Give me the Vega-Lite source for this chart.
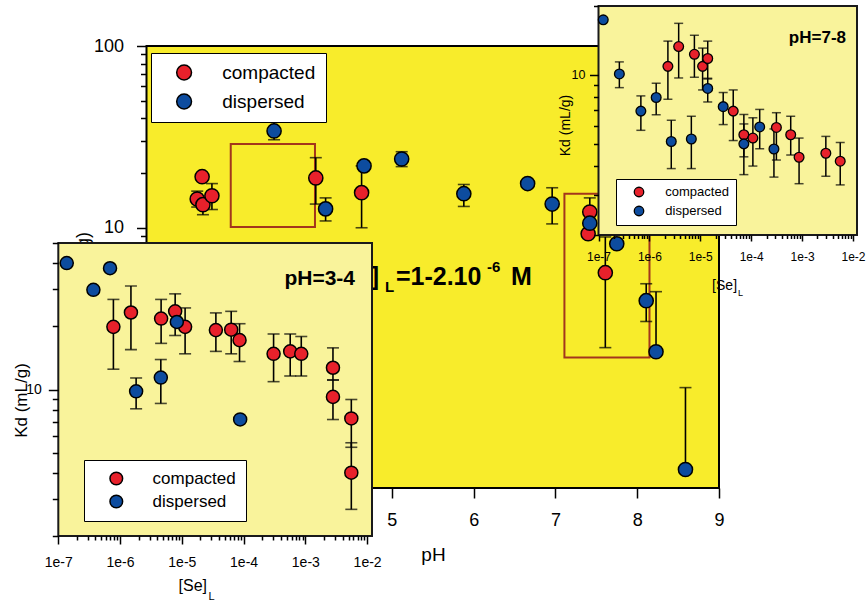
{
  "$schema": "https://vega.github.io/schema/vega-lite/v6.json",
  "width": 868,
  "height": 605,
  "autosize": {"type": "none"},
  "padding": 0,
  "background": "white",
  "config": {
    "view": {"stroke": null},
    "font": "Liberation Sans",
    "axis": {"labelColor": "black", "titleColor": "black", "tickColor": "black", "tickWidth": 1.5, "domain": false, "grid": false, "labelFont": "Liberation Sans", "titleFont": "Liberation Sans", "titleFontWeight": "normal", "labelOverlap": false, "labelFlush": false}
  },
  "datasets": {
    "main": [
      {"state": "compacted", "ph": 2.68, "kd": 19.1},
      {"state": "compacted", "ph": 2.62, "kd": 14.4, "lo": 13.0, "hi": 15.9},
      {"state": "compacted", "ph": 2.69, "kd": 13.4, "lo": 11.8, "hi": 14.5},
      {"state": "compacted", "ph": 2.80, "kd": 15.0, "lo": 12.6, "hi": 17.5},
      {"state": "compacted", "ph": 4.07, "kd": 18.8, "lo": 13.5, "hi": 24.3},
      {"state": "compacted", "ph": 4.63, "kd": 15.6, "lo": 10.0, "hi": 21.9},
      {"state": "compacted", "ph": 7.42, "kd": 12.2, "lo": 10.6, "hi": 14.6},
      {"state": "compacted", "ph": 7.40, "kd": 9.27},
      {"state": "compacted", "ph": 7.61, "kd": 5.66, "lo": 2.19, "hi": 8.9},
      {"state": "dispersed", "ph": 3.56, "kd": 34.1, "lo": 30.5, "hi": 38.3},
      {"state": "dispersed", "ph": 4.19, "kd": 12.7, "lo": 10.9, "hi": 14.6},
      {"state": "dispersed", "ph": 4.66, "kd": 21.9},
      {"state": "dispersed", "ph": 5.12, "kd": 23.9, "lo": 21.7, "hi": 26.2},
      {"state": "dispersed", "ph": 5.88, "kd": 15.4, "lo": 13.1, "hi": 17.3},
      {"state": "dispersed", "ph": 6.66, "kd": 17.5},
      {"state": "dispersed", "ph": 6.96, "kd": 13.5, "lo": 10.5, "hi": 16.6},
      {"state": "dispersed", "ph": 7.42, "kd": 10.6},
      {"state": "dispersed", "ph": 7.75, "kd": 8.17},
      {"state": "dispersed", "ph": 8.11, "kd": 3.97, "lo": 3.05, "hi": 4.92},
      {"state": "dispersed", "ph": 8.23, "kd": 2.08, "lo": 2.08, "hi": 4.45},
      {"state": "dispersed", "ph": 8.59, "kd": 0.468, "lo": 0.468, "hi": 1.32}
    ],
    "zones": [
      {"ph0": 3.03, "ph1": 4.06, "kd0": 10.1, "kd1": 28.9},
      {"ph0": 7.11, "ph1": 8.15, "kd0": 1.93, "kd1": 15.4}
    ],
    "acid": [
      {"state": "compacted", "se": 7.8e-7, "kd": 19.9, "lo": 12.5, "hi": 26.9},
      {"state": "compacted", "se": 1.5e-6, "kd": 23.3, "lo": 15.5, "hi": 31.2},
      {"state": "compacted", "se": 4.62e-6, "kd": 21.8, "lo": 16.6, "hi": 26.9},
      {"state": "compacted", "se": 7.8e-6, "kd": 23.6, "lo": 18.1, "hi": 28.6},
      {"state": "compacted", "se": 1.13e-5, "kd": 19.9, "lo": 14.8, "hi": 24.5},
      {"state": "compacted", "se": 3.56e-5, "kd": 19.2, "lo": 15.2, "hi": 23.2},
      {"state": "compacted", "se": 6.3e-5, "kd": 19.3, "lo": 14.8, "hi": 23.6},
      {"state": "compacted", "se": 8.6e-5, "kd": 17.2, "lo": 13.6, "hi": 20.6},
      {"state": "compacted", "se": 3.06e-4, "kd": 14.8, "lo": 10.9, "hi": 18.4},
      {"state": "compacted", "se": 5.69e-4, "kd": 15.2, "lo": 11.6, "hi": 18.4},
      {"state": "compacted", "se": 8.59e-4, "kd": 14.8, "lo": 11.6, "hi": 17.9},
      {"state": "compacted", "se": 2.8e-3, "kd": 12.7, "lo": 11.1, "hi": 15.8},
      {"state": "compacted", "se": 2.8e-3, "kd": 9.22, "lo": 7.19, "hi": 11.1},
      {"state": "compacted", "se": 5.55e-3, "kd": 7.28, "lo": 5.3, "hi": 8.96},
      {"state": "compacted", "se": 5.55e-3, "kd": 4.01, "lo": 2.68, "hi": 5.57},
      {"state": "dispersed", "se": 1.37e-7, "kd": 40.1},
      {"state": "dispersed", "se": 3.7e-7, "kd": 29.9},
      {"state": "dispersed", "se": 6.88e-7, "kd": 37.9},
      {"state": "dispersed", "se": 1.82e-6, "kd": 9.8, "lo": 8.09, "hi": 11.35},
      {"state": "dispersed", "se": 4.57e-6, "kd": 11.4, "lo": 8.58, "hi": 13.9},
      {"state": "dispersed", "se": 8.3e-6, "kd": 21.0},
      {"state": "dispersed", "se": 8.8e-5, "kd": 7.2}
    ],
    "neutral": [
      {"state": "compacted", "se": 2.31e-6, "kd": 10.9, "lo": 7.83, "hi": 14.05},
      {"state": "compacted", "se": 3.76e-6, "kd": 13.3, "lo": 9.7, "hi": 16.8},
      {"state": "compacted", "se": 7.66e-6, "kd": 12.3, "lo": 9.77, "hi": 14.9},
      {"state": "compacted", "se": 1.11e-5, "kd": 10.9, "lo": 8.6, "hi": 13.1},
      {"state": "compacted", "se": 1.4e-5, "kd": 11.8, "lo": 9.6, "hi": 14.05},
      {"state": "compacted", "se": 4.44e-5, "kd": 6.95, "lo": 5.17, "hi": 8.6},
      {"state": "compacted", "se": 7.18e-5, "kd": 5.48, "lo": 4.39, "hi": 6.72},
      {"state": "compacted", "se": 1.08e-4, "kd": 5.3, "lo": 4.0, "hi": 6.5},
      {"state": "compacted", "se": 3.13e-4, "kd": 5.9, "lo": 4.25, "hi": 6.84},
      {"state": "compacted", "se": 5.98e-4, "kd": 5.48, "lo": 4.47, "hi": 6.6},
      {"state": "compacted", "se": 8.73e-4, "kd": 4.37, "lo": 3.35, "hi": 5.3},
      {"state": "compacted", "se": 2.93e-3, "kd": 4.55, "lo": 3.61, "hi": 5.39},
      {"state": "compacted", "se": 5.62e-3, "kd": 4.2, "lo": 3.31, "hi": 5.07},
      {"state": "dispersed", "se": 1.24e-7, "kd": 17.4},
      {"state": "dispersed", "se": 2.57e-7, "kd": 10.1, "lo": 8.8, "hi": 11.4},
      {"state": "dispersed", "se": 6.8e-7, "kd": 6.95, "lo": 5.73, "hi": 8.1},
      {"state": "dispersed", "se": 1.36e-6, "kd": 7.97, "lo": 6.7, "hi": 9.2},
      {"state": "dispersed", "se": 2.69e-6, "kd": 5.12, "lo": 3.9, "hi": 6.34},
      {"state": "dispersed", "se": 6.67e-6, "kd": 5.25, "lo": 3.9, "hi": 6.6},
      {"state": "dispersed", "se": 1.4e-5, "kd": 8.73, "lo": 7.62, "hi": 9.67},
      {"state": "dispersed", "se": 2.82e-5, "kd": 7.27, "lo": 6.07, "hi": 8.38},
      {"state": "dispersed", "se": 7.18e-5, "kd": 5.0, "lo": 3.67, "hi": 6.11},
      {"state": "dispersed", "se": 1.47e-4, "kd": 5.93, "lo": 4.76, "hi": 7.07},
      {"state": "dispersed", "se": 2.8e-4, "kd": 4.75, "lo": 3.58, "hi": 5.81}
    ]
  },
  "layer": [
    {
      "layer": [
        {
          "data": {"values": [{}]},
          "mark": {"type": "rect", "fill": "#f8ec2b", "stroke": "black", "strokeWidth": 2},
          "encoding": {
            "x": {"datum": 2, "type": "quantitative", "title": "pH",
              "scale": {"domain": [2, 9], "range": [146.5, 719], "nice": false, "zero": false},
              "axis": {"orient": "bottom", "offset": -117, "values": [3, 4, 5, 6, 7, 8, 9], "format": "d", "tickSize": 10, "labelFontSize": 18, "labelPadding": 13, "titleFontSize": 19, "titleX": 433, "titleY": 57, "zindex": 0}},
            "x2": {"datum": 9},
            "y": {"datum": 0.37, "type": "quantitative", "title": "Kd (mL/g)",
              "scale": {"type": "log", "domain": [0.37, 100], "range": [488, 46], "nice": false},
              "axis": {"orient": "left", "offset": -146.5,
                "values": [0.4, 0.5, 0.6, 0.7, 0.8, 0.9, 1, 2, 3, 4, 5, 6, 7, 8, 9, 10, 20, 30, 40, 50, 60, 70, 80, 90, 100],
                "tickSize": {"condition": {"test": "abs(log(datum.value)/LN10 - round(log(datum.value)/LN10)) < 0.001", "value": 10}, "value": 6},
                "labelExpr": "abs(log(datum.value)/LN10 - round(log(datum.value)/LN10)) < 0.001 ? '' + datum.value : ''",
                "labelFontSize": 18, "labelPadding": 13,
                "titleFontSize": 18, "titleX": -54.5, "titleY": 271, "zindex": 0}},
            "y2": {"datum": 100}
          }
        },
        {
          "data": {"name": "zones"},
          "mark": {"type": "rect", "filled": false, "fillOpacity": 0, "stroke": "#a3361c", "strokeWidth": 2},
          "encoding": {
            "x": {"field": "ph0", "type": "quantitative", "title": "pH"},
            "x2": {"field": "ph1"},
            "y": {"field": "kd0", "type": "quantitative", "title": "Kd (mL/g)"},
            "y2": {"field": "kd1"}
          }
        },
        {
          "data": {"name": "main"},
          "transform": [{"filter": "isValid(datum.lo)"}],
          "mark": {"type": "errorbar", "color": "black", "thickness": 1.6, "ticks": {"size": 12, "thickness": 1.6, "color": "black"}},
          "encoding": {
            "x": {"field": "ph", "type": "quantitative", "title": "pH"},
            "y": {"field": "lo", "type": "quantitative", "title": "Kd (mL/g)"},
            "y2": {"field": "hi"}
          }
        },
        {
          "data": {"name": "main"},
          "mark": {"type": "point", "shape": "circle", "filled": true, "size": 200, "stroke": "black", "strokeWidth": 1.5, "opacity": 1},
          "encoding": {
            "x": {"field": "ph", "type": "quantitative", "title": "pH"},
            "y": {"field": "kd", "type": "quantitative", "title": "Kd (mL/g)"},
            "color": {"field": "state", "type": "nominal",
              "scale": {"domain": ["compacted", "dispersed"], "range": ["#e8212b", "#0d4c9f"]},
              "legend": {"orient": "none", "legendX": 151, "legendY": 53, "direction": "vertical", "title": null,
                "fillColor": "white", "strokeColor": "black", "padding": 10,
                "symbolType": "circle", "symbolSize": 220, "symbolStrokeColor": "black", "symbolStrokeWidth": 1.5,
                "symbolOffset": 13.6, "labelOffset": 28.7, "rowPadding": 8,
                "labelFont": "Liberation Sans", "labelFontSize": 19, "labelColor": "black"}}
          }
        },
        {
          "data": {"values": [{}]},
          "mark": {"type": "text", "text": "[Se]", "fontSize": 25, "fontWeight": "bold", "align": "right", "baseline": "alphabetic", "color": "black"},
          "encoding": {"x": {"datum": 4.843, "type": "quantitative"}, "y": {"datum": 4.84, "type": "quantitative"}}
        },
        {
          "data": {"values": [{}]},
          "mark": {"type": "text", "text": "L", "fontSize": 15, "fontWeight": "bold", "align": "left", "baseline": "alphabetic", "color": "black"},
          "encoding": {"x": {"datum": 4.916, "type": "quantitative"}, "y": {"datum": 4.43, "type": "quantitative"}}
        },
        {
          "data": {"values": [{}]},
          "mark": {"type": "text", "text": "=1-2.10", "fontSize": 25, "fontWeight": "bold", "align": "left", "baseline": "alphabetic", "color": "black"},
          "encoding": {"x": {"datum": 5.05, "type": "quantitative"}, "y": {"datum": 4.84, "type": "quantitative"}}
        },
        {
          "data": {"values": [{}]},
          "mark": {"type": "text", "text": "-6", "fontSize": 15, "fontWeight": "bold", "align": "left", "baseline": "alphabetic", "color": "black"},
          "encoding": {"x": {"datum": 6.163, "type": "quantitative"}, "y": {"datum": 5.7, "type": "quantitative"}}
        },
        {
          "data": {"values": [{}]},
          "mark": {"type": "text", "text": "M", "fontSize": 25, "fontWeight": "bold", "align": "left", "baseline": "alphabetic", "color": "black"},
          "encoding": {"x": {"datum": 6.456, "type": "quantitative"}, "y": {"datum": 4.84, "type": "quantitative"}}
        }
      ]
    },
    {
      "layer": [
        {
          "data": {"values": [{}]},
          "mark": {"type": "rect", "fill": "#f9f39b", "stroke": "#1a1a1a", "strokeWidth": 2},
          "encoding": {
            "x": {"datum": 1e-7, "type": "quantitative", "title": null,
              "scale": {"type": "log", "domain": [1e-7, 0.012], "range": [58.3, 372], "nice": false},
              "axis": {"orient": "bottom", "offset": -69,
                "values": [1e-7, 2e-7, 3e-7, 4e-7, 5e-7, 6e-7, 7e-7, 8e-7, 9e-7, 1e-6, 2e-6, 3e-6, 4e-6, 5e-6, 6e-6, 7e-6, 8e-6, 9e-6, 1e-5, 2e-5, 3e-5, 4e-5, 5e-5, 6e-5, 7e-5, 8e-5, 9e-5, 0.0001, 0.0002, 0.0003, 0.0004, 0.0005, 0.0006, 0.0007, 0.0008, 0.0009, 0.001, 0.002, 0.003, 0.004, 0.005, 0.006, 0.007, 0.008, 0.009, 0.01],
                "tickSize": {"condition": {"test": "abs(log(datum.value)/LN10 - round(log(datum.value)/LN10)) < 0.001", "value": 8}, "value": 4},
                "labelExpr": "abs(log(datum.value)/LN10 - round(log(datum.value)/LN10)) < 0.001 ? '1e' + round(log(datum.value)/LN10) : ''",
                "labelFontSize": 14, "labelPadding": 11, "title": null, "zindex": 1}},
            "x2": {"datum": 0.012},
            "y": {"datum": 2, "type": "quantitative", "title": "Kd (mL/g)",
              "scale": {"type": "log", "domain": [2, 50], "range": [536, 243], "nice": false},
              "axis": {"orient": "left", "offset": -58.3,
                "values": [2, 3, 4, 5, 6, 7, 8, 9, 10, 20, 30, 40, 50],
                "tickSize": {"condition": {"test": "datum.value == 10", "value": 10}, "value": 6},
                "labelExpr": "datum.value == 10 ? '10' : ''",
                "labelFontSize": 14, "labelPadding": 7,
                "titleFontSize": 17, "titleX": -27.8, "titleY": 400, "zindex": 1}},
            "y2": {"datum": 50}
          }
        },
        {
          "data": {"name": "acid"},
          "transform": [{"filter": "isValid(datum.lo)"}],
          "mark": {"type": "errorbar", "color": "black", "thickness": 1.6, "ticks": {"size": 12, "thickness": 1.6, "color": "black"}},
          "encoding": {
            "x": {"field": "se", "type": "quantitative", "title": null},
            "y": {"field": "lo", "type": "quantitative", "title": "Kd (mL/g)"},
            "y2": {"field": "hi"}
          }
        },
        {
          "data": {"name": "acid"},
          "mark": {"type": "point", "shape": "circle", "filled": true, "size": 170, "stroke": "black", "strokeWidth": 1.5, "opacity": 1},
          "encoding": {
            "x": {"field": "se", "type": "quantitative", "title": null},
            "y": {"field": "kd", "type": "quantitative", "title": "Kd (mL/g)"},
            "color": {"field": "state", "type": "nominal",
              "scale": {"domain": ["compacted", "dispersed"], "range": ["#e8212b", "#0d4c9f"]},
              "legend": {"orient": "none", "legendX": 84, "legendY": 460, "direction": "vertical", "title": null,
                "fillColor": "white", "strokeColor": "black", "padding": 10,
                "symbolType": "circle", "symbolSize": 160, "symbolStrokeColor": "black", "symbolStrokeWidth": 1.5,
                "symbolOffset": 13.8, "labelOffset": 27.8, "rowPadding": 4,
                "labelFont": "Liberation Sans", "labelFontSize": 17, "labelColor": "black"}}
          }
        },
        {
          "data": {"values": [{}]},
          "mark": {"type": "text", "text": "pH=3-4", "fontSize": 21, "fontWeight": "bold", "align": "right", "baseline": "alphabetic", "color": "black"},
          "encoding": {"x": {"datum": 0.00637, "type": "quantitative"}, "y": {"datum": 31.5, "type": "quantitative"}}
        },
        {
          "data": {"values": [{}]},
          "mark": {"type": "text", "text": "[Se]", "fontSize": 16, "align": "right", "baseline": "alphabetic", "color": "black"},
          "encoding": {"x": {"datum": 2.56e-5, "type": "quantitative"}, "y": {"datum": 1.093, "type": "quantitative"}}
        },
        {
          "data": {"values": [{}]},
          "mark": {"type": "text", "text": "L", "fontSize": 11, "align": "left", "baseline": "alphabetic", "color": "black"},
          "encoding": {"x": {"datum": 2.7e-5, "type": "quantitative"}, "y": {"datum": 0.99, "type": "quantitative"}}
        }
      ]
    },
    {
      "layer": [
        {
          "data": {"values": [{}]},
          "mark": {"type": "rect", "fill": "#f9f39b", "stroke": "#1a1a1a", "strokeWidth": 2},
          "encoding": {
            "x": {"datum": 1e-7, "type": "quantitative", "title": null,
              "scale": {"type": "log", "domain": [1e-7, 0.012], "range": [598.5, 857], "nice": false},
              "axis": {"orient": "bottom", "offset": -370,
                "values": [1e-7, 2e-7, 3e-7, 4e-7, 5e-7, 6e-7, 7e-7, 8e-7, 9e-7, 1e-6, 2e-6, 3e-6, 4e-6, 5e-6, 6e-6, 7e-6, 8e-6, 9e-6, 1e-5, 2e-5, 3e-5, 4e-5, 5e-5, 6e-5, 7e-5, 8e-5, 9e-5, 0.0001, 0.0002, 0.0003, 0.0004, 0.0005, 0.0006, 0.0007, 0.0008, 0.0009, 0.001, 0.002, 0.003, 0.004, 0.005, 0.006, 0.007, 0.008, 0.009, 0.01],
                "tickSize": {"condition": {"test": "abs(log(datum.value)/LN10 - round(log(datum.value)/LN10)) < 0.001", "value": 6}, "value": 3.5},
                "labelExpr": "abs(log(datum.value)/LN10 - round(log(datum.value)/LN10)) < 0.001 ? '1e' + round(log(datum.value)/LN10) : ''",
                "labelFontSize": 12, "labelPadding": 10, "title": null, "zindex": 1}},
            "x2": {"datum": 0.012},
            "y": {"datum": 2, "type": "quantitative", "title": "Kd (mL/g)",
              "scale": {"type": "log", "domain": [2, 20], "range": [235, 6], "nice": false},
              "axis": {"orient": "left", "offset": -598.5,
                "values": [2, 3, 4, 5, 6, 7, 8, 9, 10, 20],
                "tickSize": {"condition": {"test": "datum.value == 10", "value": 9}, "value": 5},
                "labelExpr": "datum.value == 10 ? '10' : ''",
                "labelFontSize": 12.5, "labelPadding": 4.5,
                "titleFontSize": 14, "titleX": -26.5, "titleY": 125, "zindex": 1}},
            "y2": {"datum": 20}
          }
        },
        {
          "data": {"name": "neutral"},
          "transform": [{"filter": "isValid(datum.lo)"}],
          "mark": {"type": "errorbar", "color": "black", "thickness": 1.5, "ticks": {"size": 9, "thickness": 1.5, "color": "black"}},
          "encoding": {
            "x": {"field": "se", "type": "quantitative", "title": null},
            "y": {"field": "lo", "type": "quantitative", "title": "Kd (mL/g)"},
            "y2": {"field": "hi"}
          }
        },
        {
          "data": {"name": "neutral"},
          "mark": {"type": "point", "shape": "circle", "filled": true, "size": 95, "stroke": "black", "strokeWidth": 1.3, "opacity": 1},
          "encoding": {
            "x": {"field": "se", "type": "quantitative", "title": null},
            "y": {"field": "kd", "type": "quantitative", "title": "Kd (mL/g)"},
            "color": {"field": "state", "type": "nominal",
              "scale": {"domain": ["compacted", "dispersed"], "range": ["#e8212b", "#0d4c9f"]},
              "legend": {"orient": "none", "legendX": 616, "legendY": 179, "direction": "vertical", "title": null,
                "fillColor": "white", "strokeColor": "black", "padding": 6.5,
                "symbolType": "circle", "symbolSize": 90, "symbolStrokeColor": "black", "symbolStrokeWidth": 1.3,
                "symbolOffset": 10, "labelOffset": 19.8, "rowPadding": 4,
                "labelFont": "Liberation Sans", "labelFontSize": 13, "labelColor": "black"}}
          }
        },
        {
          "data": {"values": [{}]},
          "mark": {"type": "text", "text": "pH=7-8", "fontSize": 17, "fontWeight": "bold", "align": "right", "baseline": "alphabetic", "color": "black"},
          "encoding": {"x": {"datum": 0.0073, "type": "quantitative"}, "y": {"datum": 13.83, "type": "quantitative"}}
        },
        {
          "data": {"values": [{}]},
          "mark": {"type": "text", "text": "[Se]", "fontSize": 14, "align": "right", "baseline": "alphabetic", "color": "black"},
          "encoding": {"x": {"datum": 5.27e-5, "type": "quantitative"}, "y": {"datum": 1.15, "type": "quantitative"}}
        },
        {
          "data": {"values": [{}]},
          "mark": {"type": "text", "text": "L", "fontSize": 9, "align": "left", "baseline": "alphabetic", "color": "black"},
          "encoding": {"x": {"datum": 5.49e-5, "type": "quantitative"}, "y": {"datum": 1.083, "type": "quantitative"}}
        }
      ]
    }
  ],
  "resolve": {
    "scale": {"x": "independent", "y": "independent", "color": "independent"},
    "axis": {"x": "independent", "y": "independent"},
    "legend": {"color": "independent"}
  }
}
